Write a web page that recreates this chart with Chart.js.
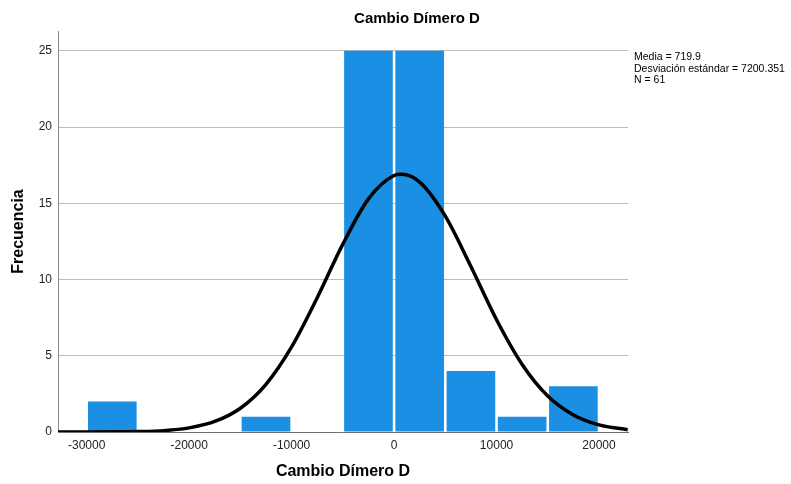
<!DOCTYPE html>
<html>
<head>
<meta charset="utf-8">
<script src="https://cdn.jsdelivr.net/npm/chart.js@4.4.1/dist/chart.umd.min.js"></script>
<style>
  body { margin: 0; background: #fff; }
  #wrap { position: relative; width: 791px; height: 484px; }
  #title { position: absolute; left: 0; width: 834px; top: 9px; text-align: center;
           font: bold 15px "Liberation Sans", Arial, sans-serif; color: #000; }
  #stats { position: absolute; left: 634px; top: 51px; font: 10.5px "Liberation Sans", Arial, sans-serif;
           line-height: 11.5px; color: #000; white-space: nowrap; }
</style>
</head>
<body>
<div id="wrap">
  <canvas id="histChart" width="791" height="484"></canvas>
  <div id="title">Cambio Dímero D</div>
  <div id="stats">Media = 719.9<br>Desviación estándar = 7200.351<br>N = 61</div>
</div>
<script>
// histogram bins (centres of 5000-wide bins) and counts
const binCenters = [-27500, -12500, -2500, 2500, 7500, 12500, 17500];
const binCounts  = [2, 1, 25, 25, 4, 1, 3];

// normal curve
const curveX = [-32800, -30000, -27500, -25000, -22500, -20000, -17500, -15000, -12500, -10000,
                -7500, -5000, -2500, 0, 720, 2500, 5000, 7500, 10000, 12500, 15000, 17500, 20000, 22800];
const curveY = [0.0, 0.0, 0.01, 0.03, 0.09, 0.27, 0.69, 1.56, 3.13, 5.58,
                8.81, 12.32, 15.29, 16.82, 16.9, 16.39, 14.16, 10.85, 7.36, 4.43, 2.36, 1.12, 0.47, 0.15];

const xTicks = [-30000, -20000, -10000, 0, 10000, 20000];
const yTicks = [0, 5, 10, 15, 20, 25];

const tickFont = { family: '"Liberation Sans", Arial, sans-serif', size: 12 };

const ctx = document.getElementById('histChart').getContext('2d');
new Chart(ctx, {
    type: 'bar',
    data: {
        datasets: [
            {
                type: 'line',
                label: 'Normal',
                data: curveX.map((x, i) => ({ x: x, y: curveY[i] })),
                borderColor: '#000',
                borderWidth: 3.5,
                pointRadius: 0,
                cubicInterpolationMode: 'monotone',
                fill: false,
                order: 0
            },
            {
                label: 'Frecuencia',
                data: binCenters.map((x, i) => ({ x: x, y: binCounts[i] })),
                backgroundColor: '#1a8fe3',
                barPercentage: 0.95,
                categoryPercentage: 1,
                order: 1
            }
        ]
    },
    options: {
        responsive: false,
        animation: false,
        layout: { padding: { left: 0, right: 163, top: 31, bottom: 0 } },
        plugins: { legend: { display: false }, tooltip: { enabled: false } },
        scales: {
            x: {
                type: 'linear',
                min: -32800,
                max: 22830,
                offset: false,
                afterBuildTicks: s => { s.ticks = xTicks.map(v => ({ value: v })); },
                afterFit: s => { s.height = 52; },
                grid: { display: false, drawTicks: false },
                border: { display: true, color: '#6e6e6e', width: 1 },
                ticks: { padding: 6, color: '#222', font: tickFont, maxRotation: 0,
                         callback: v => String(v) },
                title: {
                    display: true, text: 'Cambio Dímero D', color: '#000',
                    font: { family: '"Liberation Sans", Arial, sans-serif', size: 16, weight: 'bold' },
                    padding: { top: 0, bottom: 3 }
                }
            },
            y: {
                min: 0,
                max: 26.3,
                afterBuildTicks: s => { s.ticks = yTicks.map(v => ({ value: v })); },
                afterFit: s => { s.width = 58; },
                grid: { color: '#bdbdbd', lineWidth: 1, drawTicks: false },
                border: { display: true, color: '#8a8a8a', width: 1 },
                ticks: { padding: 6, color: '#222', font: tickFont, callback: v => String(v) },
                title: {
                    display: true, text: 'Frecuencia', color: '#000',
                    font: { family: '"Liberation Sans", Arial, sans-serif', size: 16, weight: 'bold' },
                    padding: { top: 9, bottom: 0 }
                }
            }
        }
    }
});
</script>
</body>
</html>
